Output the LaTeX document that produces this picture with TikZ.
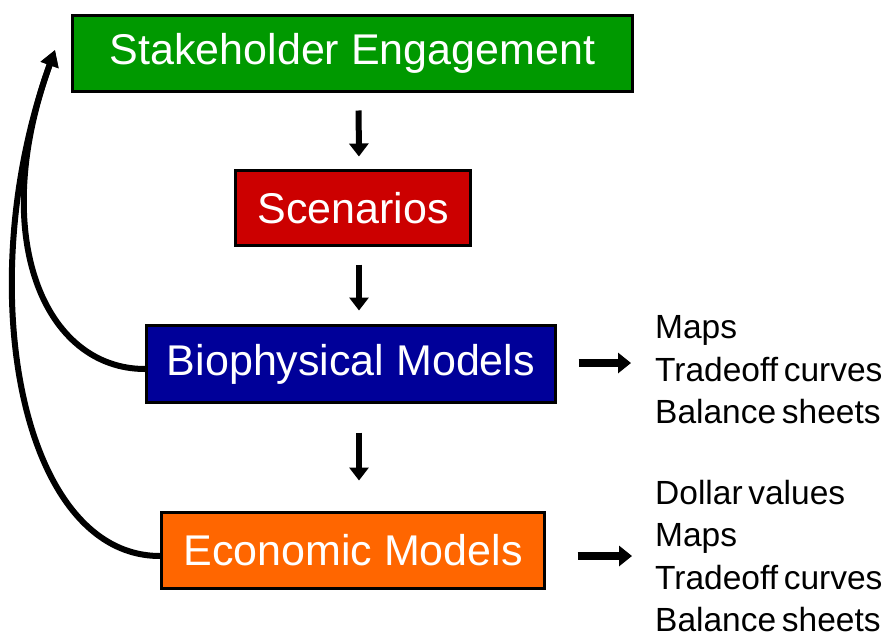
\documentclass[tikz,border=0pt]{standalone}
\usepackage{fontspec}
\setmainfont{Liberation Sans}
\usetikzlibrary{arrows.meta, positioning, calc}
\definecolor{stakegreen}{RGB}{0,153,0}
\definecolor{scenred}{RGB}{204,0,0}
\definecolor{bionavy}{RGB}{0,0,153}
\definecolor{econorange}{RGB}{255,102,0}

\begin{document}
\begin{tikzpicture}[
    x=1pt, y=-1pt,
    stage/.style={draw=black, line width=3pt, text=white, inner sep=0pt, font=\fontsize{43}{50}\selectfont},
    flow/.style={-{Triangle[width=19pt, length=13pt]}, line width=6pt},
    outflow/.style={-{Triangle[width=20pt, length=13pt]}, line width=7.5pt},
    loopback/.style={-{Triangle[width=18pt, length=16pt]}, line width=6pt},
    outlist/.style={anchor=west, align=left, inner sep=0pt, font={\fontsize{33.5}{42.5}\selectfont\spaceskip=0.17em plus 0.05em\relax}},
]
\useasboundingbox (0,0) rectangle (894,637);

% --- Stages (top to bottom) ---
\node[stage, fill=stakegreen, minimum width=560pt, minimum height=76pt] (stake) at (352.5,53.5) {Stakeholder Engagement};
\node[stage, fill=scenred, minimum width=235pt, minimum height=75pt] (scen) at (353,208) {Scenarios};
\node[stage, fill=bionavy, minimum width=409pt, minimum height=77pt] (bio) at (351,364) {Biophysical Models};
\node[stage, fill=econorange, minimum width=383pt, minimum height=76pt] (econ) at (353,550) {Economic Models};

% --- Outputs on the right ---
\node[outlist] (bioout) at (655,370) {Maps\\Tradeoff curves\\Balance sheets};
\node[outlist] (econout) at (655,556) {Dollar values\\Maps\\Tradeoff curves\\Balance sheets};

% --- Downward flow ---
\draw[flow, shorten <=17.5pt, shorten >=12.5pt] ([xshift=6pt]stake.south) -- ([xshift=6pt]scen.north);
\draw[flow, shorten <=17.5pt, shorten >=13.5pt] ([xshift=6pt]scen.south) -- ([xshift=8pt]bio.north);
\draw[flow, shorten <=28.5pt, shorten >=30pt] ([xshift=8pt]bio.south) -- ([xshift=6pt]econ.north);

% --- Arrows to outputs ---
\draw[outflow, shorten <=21.5pt, shorten >=24pt] ([yshift=1pt]bio.east) -- ([yshift=1pt]bio.east -| bioout.west);
\draw[outflow, shorten <=31.5pt, shorten >=23pt] ([yshift=-6pt]econ.east) -- ([yshift=-6pt]econ.east -| econout.west);

% --- Feedback curves back to stakeholders ---
\coordinate (tip) at (55,50);
\draw[loopback] ([yshift=-5pt]bio.west) .. controls +(-100,0) and +(-68,188) .. (tip);
\draw[loopback] ([yshift=-6pt]econ.west) .. controls +(-140,0) and +(-85,235) .. (tip);

\end{tikzpicture}
\end{document}
